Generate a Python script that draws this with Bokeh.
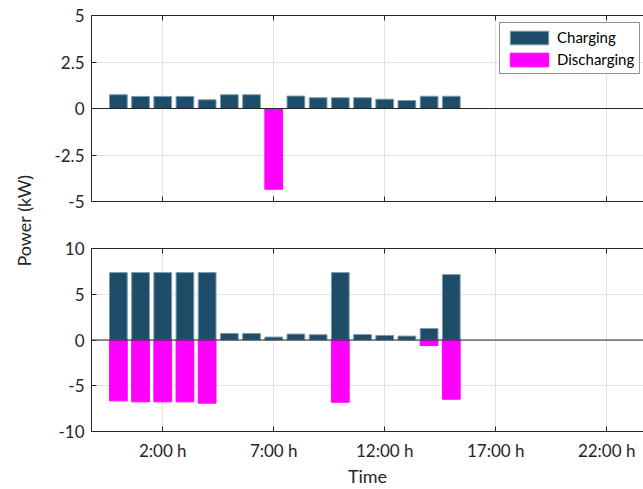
from bokeh.plotting import figure
from bokeh.layouts import column, row
from bokeh.models import (Range1d, FixedTicker, LinearAxis, Span, Label,
                          CustomJSTickFormatter, ColumnDataSource)
from bokeh.embed import file_html
from bokeh.resources import INLINE
import math

# ---------------- data ----------------
hours = list(range(16))
top_charging = [0.74, 0.65, 0.65, 0.65, 0.47, 0.74, 0.74, 0.0,
                0.67, 0.58, 0.58, 0.58, 0.50, 0.43, 0.66, 0.66]
top_discharging = [0, 0, 0, 0, 0, 0, 0, -4.34,
                   0, 0, 0, 0, 0, 0, 0, 0]
bottom_charging = [7.37, 7.37, 7.37, 7.37, 7.37, 0.72, 0.72, 0.32,
                   0.65, 0.58, 7.37, 0.60, 0.50, 0.43, 1.26, 7.15]
bottom_discharging = [-6.65, -6.76, -6.76, -6.76, -6.90, 0, 0, 0,
                      0, 0, -6.80, 0, 0, 0, -0.61, -6.47]
x_tick_values = [2, 7, 12, 17, 22]
x_tick_labels = ["2:00 h", "7:00 h", "12:00 h", "17:00 h", "22:00 h"]
top_y_ticks = [-5, -2.5, 0, 2.5, 5]
top_y_labels = ["-5", "-2.5", "0", "2.5", "5"]
bottom_y_ticks = [-10, -5, 0, 5, 10]
bottom_y_labels = ["-10", "-5", "0", "5", "10"]

# ---------------- style ----------------
FONT = "Lato"
TXT = "#262626"
CHG = "#1e4d6a"
CHG_EDGE = "#7f9cb0"
DIS = "#ff00ff"
GRID = "#e3e3e3"
X_RANGE = (-1.21, 23.66)


def nonzero(xs, vs):
    pairs = [(x, v) for x, v in zip(xs, vs) if v != 0]
    return ColumnDataSource(dict(x=[p[0] for p in pairs], v=[p[1] for p in pairs]))


def style_axis(ax, labels=True):
    ax.axis_line_color = TXT
    ax.major_tick_line_color = TXT
    ax.major_tick_in = 5
    ax.major_tick_out = 0
    ax.minor_tick_line_color = None
    ax.major_label_text_font = FONT
    ax.major_label_text_font_size = "17px"
    ax.major_label_text_color = TXT
    if not labels:
        ax.formatter = CustomJSTickFormatter(code="return ''")


def panel(height, ylim, yticks, ylabels, charging, discharging, show_xlabels,
          border_top, border_bottom, legend=False):
    p = figure(width=603, height=height, output_backend="svg", toolbar_location=None,
               x_range=Range1d(*X_RANGE), y_range=Range1d(*ylim),
               min_border_left=51, min_border_right=0,
               min_border_top=border_top, min_border_bottom=border_bottom,
               outline_line_color=None, background_fill_color="white",
               border_fill_color="white")
    p.xaxis.ticker = FixedTicker(ticks=x_tick_values)
    p.yaxis.ticker = FixedTicker(ticks=yticks)
    p.yaxis.major_label_overrides = {t: l for t, l in zip(yticks, ylabels)}
    style_axis(p.yaxis[0])
    p.yaxis.major_label_standoff = 7
    style_axis(p.xaxis[0], labels=show_xlabels)
    if show_xlabels:
        p.xaxis.major_label_overrides = {t: l for t, l in zip(x_tick_values, x_tick_labels)}
        p.xaxis.major_label_standoff = 8
        p.xaxis.axis_label = "Time"
        p.xaxis.axis_label_text_font = FONT
        p.xaxis.axis_label_text_font_size = "18px"
        p.xaxis.axis_label_text_font_style = "normal"
        p.xaxis.axis_label_text_color = TXT
        p.xaxis.axis_label_standoff = 1
    top_ax = LinearAxis(ticker=FixedTicker(ticks=x_tick_values))
    style_axis(top_ax, labels=False)
    p.add_layout(top_ax, "above")

    p.xgrid.ticker = FixedTicker(ticks=x_tick_values)
    p.grid.grid_line_color = GRID
    p.grid.grid_line_width = 1

    cs = nonzero(hours, charging)
    ds = nonzero(hours, discharging)
    kw_c = dict(legend_label="Charging") if legend else {}
    kw_d = dict(legend_label="Discharging") if legend else {}
    p.vbar(x="x", top="v", bottom=0, width=0.8, source=cs, fill_color=CHG,
           line_color=CHG_EDGE, line_width=1, **kw_c)
    p.vbar(x="x", top="v", bottom=0, width=0.8, source=ds, fill_color=DIS,
           line_color=DIS, line_width=1, **kw_d)
    p.add_layout(Span(location=0, dimension="width", line_color=TXT,
                      line_width=1, level="overlay"))
    if legend:
        lg = p.legend[0]
        lg.location = (408, 127)
        lg.border_line_color = TXT
        lg.border_line_width = 1
        lg.background_fill_alpha = 1
        lg.padding = 5
        lg.spacing = 4
        lg.margin = 0
        lg.glyph_width = 48
        lg.glyph_height = 17
        lg.label_standoff = 4
        lg.label_text_font = FONT
        lg.label_text_font_size = "15px"
        lg.label_text_color = "#000000"
        lg.label_height = 17
    return p


p1 = panel(224, (-5, 5), top_y_ticks, top_y_labels, top_charging, top_discharging,
           False, 15, 23, legend=True)
p2 = panel(265, (-10, 10), bottom_y_ticks, bottom_y_labels, bottom_charging,
           bottom_discharging, True, 24, 55)

lab = figure(width=40, height=489, output_backend="svg", toolbar_location=None,
             x_range=Range1d(0, 40), y_range=Range1d(489, 0),
             x_axis_type=None, y_axis_type=None, min_border=0,
             outline_line_color=None)
lab.grid.visible = False
lab.add_layout(Label(x=23, y=220, text="Power (kW)", angle=math.pi / 2,
                     text_align="center", text_baseline="middle",
                     text_font=FONT, text_font_size="18px", text_color=TXT))

layout = row(lab, column(p1, p2, spacing=0), spacing=0)
open("out.html", "w").write(file_html(layout, INLINE))
